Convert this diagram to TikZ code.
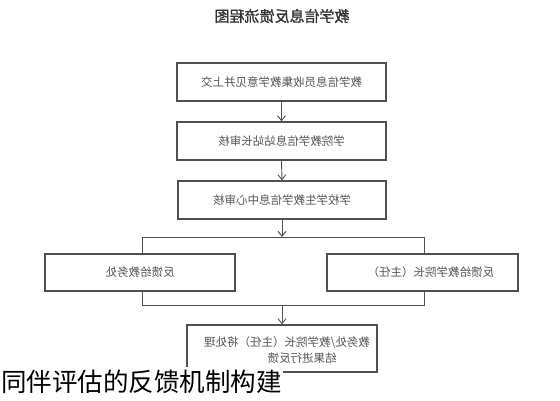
\documentclass[tikz,border=0pt]{standalone}
\usepackage{graphicx}
\usepackage{fontspec}
\usetikzlibrary{arrows.meta}
\newfontfamily\cjk{Noto Sans CJK SC}
\newfontfamily\cjkb{Noto Sans CJK SC}[FakeBold=1.2]
\definecolor{boxline}{HTML}{505050}
\definecolor{boxtext}{HTML}{555555}
\definecolor{titletext}{HTML}{333333}
\tikzset{
  flowbox/.style={draw=boxline, line width=1.3pt, fill=white, inner sep=0pt,
    font=\cjk\fontsize{11.5}{13}\selectfont, text=boxtext},
  conn/.style={draw=boxline, line width=0.9pt},
  arr/.style={conn, -{Straight Barb[length=5pt,width=8pt]}},
  lbl/.style={inner sep=0pt, font=\cjk\fontsize{11.5}{13}\selectfont, text=boxtext},
}
\begin{document}
\begin{tikzpicture}[x=1pt,y=-1pt]
\useasboundingbox (0,0) rectangle (560,400);
\node[inner sep=0pt, font=\cjkb\fontsize{15}{17}\selectfont, text=titletext] (title) at (282,16) {\reflectbox{教学信息反馈流程图}};
\node[flowbox, minimum width=209pt, minimum height=38pt] (b1) at (281.5,82) {\reflectbox{教学信息员收集教学意见并上交}};
\node[flowbox, minimum width=209pt, minimum height=38pt] (b2) at (281.5,141) {\reflectbox{学院教学信息站站长审核}};
\node[flowbox, minimum width=208pt, minimum height=38pt] (b3) at (282,200) {\reflectbox{学校学生教学信息中心审核}};
\node[flowbox, minimum width=190pt, minimum height=37pt] (lb) at (140,272.5) {\reflectbox{反馈给教务处}};
\node[flowbox, minimum width=191pt, minimum height=37pt, text width=191pt, align=right] (rb) at (422.5,272.5) {\reflectbox{反馈给教学院长（主任）}\hspace*{24pt}};
\node[flowbox, minimum width=190pt, minimum height=47pt] (b4) at (282,348.5) {};
\node[lbl] (t4a) at (287,343) {\reflectbox{教务处/教学院长（主任）将处理}};
\node[lbl] (t4b) at (302,358) {\reflectbox{结果进行反馈}};
\coordinate (tl) at (142,237);
\coordinate (tr) at (424,237);
\coordinate (bl) at (142,305);
\coordinate (br) at (424,305);
\draw[arr] (b1.south) -- (b2.north);
\draw[arr] (b2.south) -- (b3.north);
\draw[arr] (b3.south) -- (b3.south |- tl);
\draw[conn] (tl |- lb.north) -- (tl) -- (tr) -- (tr |- rb.north);
\draw[conn] (bl |- lb.south) -- (bl) -- (br) -- (br |- rb.south);
\draw[arr] (b4.north |- bl) -- (b4.north);
\node[fill=white, inner xsep=1pt, inner ysep=3pt, anchor=west, font=\cjk\fontsize{25.5}{28}\selectfont, text=black] (cap) at (0,382) {同伴评估的反馈机制构建};
\end{tikzpicture}
\end{document}
